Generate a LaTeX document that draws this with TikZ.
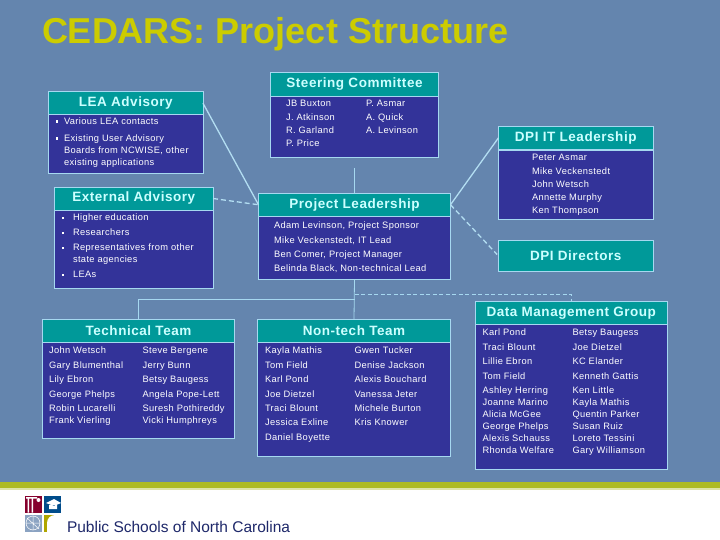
\documentclass[tikz,border=0pt]{standalone}
\usepackage{fontspec}
\setmainfont{Liberation Sans}[LetterSpace=4]
\newfontfamily\plainfont{Liberation Sans}
\usepackage{xcolor}
\usepackage{tikz}
\usetikzlibrary{positioning}

\definecolor{slidebg}{HTML}{6485AE}
\definecolor{headteal}{HTML}{009999}
\definecolor{bodynavy}{HTML}{333399}
\definecolor{edgeblue}{HTML}{A6D8F0}
\definecolor{headtext}{HTML}{CCFFFF}
\definecolor{titleyellow}{HTML}{CCCC00}
\definecolor{bandgreen}{HTML}{ADBB22}

\newcommand{\bul}{\makebox[8pt][l]{\rule[1.5pt]{2.4pt}{2.4pt}}}

\begin{document}
\begin{tikzpicture}[
    x=1pt, y=-1pt,
    outer sep=0pt,
    headbox/.style={draw=edgeblue, line width=0.8pt, fill=headteal, text=headtext, anchor=north west,
        minimum height=23pt, inner sep=0pt, font=\fontsize{13.5}{15}\selectfont\bfseries},
    bodybox/.style={draw=edgeblue, line width=0.8pt, fill=bodynavy, inner sep=0pt},
    namelist/.style={anchor=north west, inner sep=0pt, text=white, align=left,
        font=\fontsize{9.3}{12}\selectfont},
    link/.style={draw=edgeblue!85!white, line width=1.3pt},
    linkdash/.style={link, dashed, dash pattern=on 5pt off 3pt},
    thinlink/.style={draw=edgeblue, line width=0.8pt}
]

% Slide ground
\fill[slidebg] (0,0) rectangle (720,540);
\fill[white] (0,482) rectangle (720,540);
\fill[bandgreen] (0,482) rectangle (720,488);
\fill[bandgreen!40!white] (0,488) rectangle (720,489.5);

\node[anchor=west, inner sep=0pt, text=titleyellow, font=\plainfont\fontsize{36}{40}\selectfont\bfseries] (title) at (42,34) {CEDARS: Project Structure};

% Advisory boxes
\node[headbox, minimum width=154.5pt] (lea) at (48.5,91.7) {LEA Advisory};
\node[bodybox, minimum width=154.5pt, minimum height=59pt, below=0pt of lea] (leabody) {};
\node[namelist] (lealist) at (56,117.5) {\bul Various LEA contacts\\[5pt]
    \bul Existing User Advisory\\
    \hspace*{8pt}Boards from NCWISE, other\\
    \hspace*{8pt}existing applications};

\node[headbox, minimum width=158.5pt] (external) at (54.5,187) {External Advisory};
\node[bodybox, minimum width=158.5pt, minimum height=78pt, below=0pt of external] (externalbody) {};
\node[namelist] (externallist) at (62,214) {\makebox[11pt][l]{\rule[1.5pt]{2.4pt}{2.4pt}}Higher education\\[3pt]
    \makebox[11pt][l]{\rule[1.5pt]{2.4pt}{2.4pt}}Researchers\\[3pt]
    \makebox[11pt][l]{\rule[1.5pt]{2.4pt}{2.4pt}}Representatives from other\\
    \hspace*{11pt}state agencies\\[3pt]
    \makebox[11pt][l]{\rule[1.5pt]{2.4pt}{2.4pt}}LEAs};

% Steering
\node[headbox, minimum width=168pt, minimum height=24pt] (steering) at (270.5,72.5) {Steering Committee};
\node[bodybox, minimum width=168pt, minimum height=60.5pt, below=0pt of steering] (steeringbody) {};
\node[namelist] (steeringleft) at (286,100) {JB Buxton\\[2pt] J. Atkinson\\[1pt] R. Garland\\[1pt] P. Price};
\node[namelist] (steeringright) at (366,100) {P. Asmar\\[2pt] A. Quick\\[1pt] A. Levinson};

% Project leadership
\node[headbox, minimum width=192pt, minimum height=22.5pt] (project) at (258.5,193.5) {Project Leadership};
\node[bodybox, minimum width=192pt, minimum height=63.5pt, below=0pt of project] (projectbody) {};
\node[namelist] (projectlist) at (274,222) {Adam Levinson, Project Sponsor\\[3pt]
    Mike Veckenstedt, IT Lead\\[2pt]
    Ben Comer, Project Manager\\[2pt]
    Belinda Black, Non-technical Lead};

% DPI side
\node[headbox, minimum width=154.5pt, minimum height=22.5pt] (dpiit) at (498.5,126.5) {DPI IT Leadership};
\node[bodybox, minimum width=154.5pt, minimum height=69pt, below=1.5pt of dpiit] (dpiitbody) {};
\node[namelist] (dpiitlist) at (532,154) {Peter Asmar\\[2pt]
    Mike Veckenstedt\\[1pt]
    John Wetsch\\[1pt]
    Annette Murphy\\[1pt]
    Ken Thompson};
\node[headbox, minimum width=154.5pt, minimum height=31pt] (dpidir) at (498.5,240.5) {DPI Directors};

% Teams
\node[headbox, minimum width=192pt] (technical) at (42.5,319.5) {Technical Team};
\node[bodybox, minimum width=192pt, minimum height=96pt, below=0pt of technical] (technicalbody) {};
\node[namelist] (technicalleft) at (49,347) {John Wetsch\\[3pt] Gary Blumenthal\\[2pt] Lily Ebron\\[3pt] George Phelps\\[2pt] Robin Lucarelli\\ Frank Vierling};
\node[namelist] (technicalright) at (142.5,347) {Steve Bergene\\[3pt] Jerry Bunn\\[2pt] Betsy Baugess\\[3pt] Angela Pope-Lett\\[2pt] Suresh Pothireddy\\ Vicki Humphreys};

\node[headbox, minimum width=193pt] (nontech) at (257.5,319.5) {Non-tech Team};
\node[bodybox, minimum width=193pt, minimum height=113.5pt, below=0pt of nontech] (nontechbody) {};
\node[namelist] (nontechleft) at (265,347) {Kayla Mathis\\[3pt] Tom Field\\[2pt] Karl Pond\\[3pt] Joe Dietzel\\[2pt] Traci Blount\\[2pt] Jessica Exline\\[3pt] Daniel Boyette};
\node[namelist] (nontechright) at (354.5,347) {Gwen Tucker\\[3pt] Denise Jackson\\[2pt] Alexis Bouchard\\[3pt] Vanessa Jeter\\[2pt] Michele Burton\\[2pt] Kris Knower};

\node[headbox, minimum width=191.5pt] (datagroup) at (475.5,301.5) {Data Management Group};
\node[bodybox, minimum width=191.5pt, minimum height=145pt, below=0pt of datagroup] (databody) {};
\node[namelist] (dataleft) at (482.5,329) {Karl Pond\\[3pt] Traci Blount\\[2pt] Lillie Ebron\\[3pt] Tom Field\\[2pt] Ashley Herring\\ Joanne Marino\\ Alicia McGee\\ George Phelps\\ Alexis Schauss\\ Rhonda Welfare};
\node[namelist] (dataright) at (572.5,329) {Betsy Baugess\\[3pt] Joe Dietzel\\[2pt] KC Elander\\[3pt] Kenneth Gattis\\[2pt] Ken Little\\ Kayla Mathis\\ Quentin Parker\\ Susan Ruiz\\ Loreto Tessini\\ Gary Williamson};

% Connectors
\coordinate (steerdrop) at (354.5,168);
\coordinate (teamjoin) at (354.5,299.3);
\coordinate (datajoin) at (354.5,294.5);
\draw[link] (lea.east) -- (project.west);
\draw[linkdash] (external.east) -- (project.west);
\draw[link] (project.east) -- (dpiit.west);
\draw[linkdash, shorten >=2pt] (project.east) -- (dpidir.west);
\draw[thinlink] (steerdrop) -- (project.north);
\draw[thinlink] (projectbody.south) -- (nontech.north);
\draw[thinlink] (technical.north) |- (teamjoin);
\draw[thinlink, dashed, dash pattern=on 4pt off 2.5pt] (datajoin) -| (datagroup.north);

% Logo
\fill[black!0, fill=purple!70!black] (25,495.5) rectangle (42,512.5);
\fill[white] (26,497) rectangle (37,498.5) (27.5,498.5) rectangle (29,512.5) (31.5,498.5) rectangle (33,512.5);
\fill[white] (38.5,500) circle (2pt);
\fill[blue!35!black!70!cyan] (44,495.5) rectangle (61,512.5);
\fill[white] (46,503) -- (54,499) -- (61,503) -- (54,506) -- cycle (49,505) rectangle (57,509);
\fill[slidebg!75!white] (25,515) rectangle (42,532);
\draw[white, line width=0.5pt] (33,523) circle (7pt) (26,523) -- (40,523) (33,516) -- (33,530) (27,518) -- (39,529);
\fill[olive!70!yellow] (44,515) rectangle (61,532);
\fill[white] (47,532) -- (47,523) arc[start angle=180, end angle=90, radius=8pt] -- (61,515) -- (61,532) -- cycle;
\node[anchor=west, inner sep=0pt, text=blue!30!black!70!slidebg, font=\plainfont\fontsize{15.5}{17}\selectfont] (logotext) at (67,527) {Public Schools of North Carolina};

\end{tikzpicture}
\end{document}
